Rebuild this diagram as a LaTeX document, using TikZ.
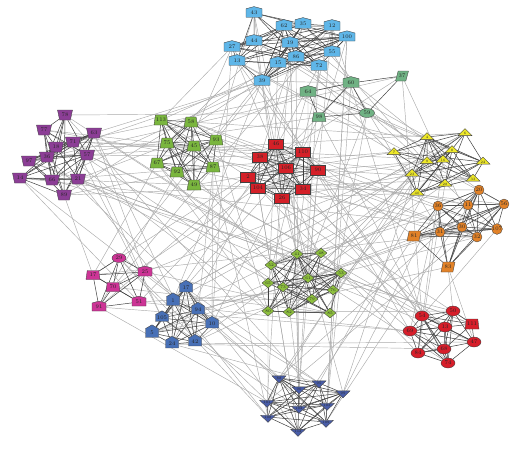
\documentclass[tikz,border=0pt]{standalone}
\usetikzlibrary{shapes.geometric,shapes.symbols}
\pgfdeclarelayer{bg}
\pgfsetlayers{bg,main}
\definecolor{cA}{RGB}{95,182,232}
\definecolor{cB}{RGB}{140,62,150}
\definecolor{cC}{RGB}{122,182,62}
\definecolor{cD}{RGB}{212,32,40}
\definecolor{cE}{RGB}{112,178,132}
\definecolor{cF}{RGB}{238,232,40}
\definecolor{cG}{RGB}{226,130,40}
\definecolor{cH}{RGB}{142,192,62}
\definecolor{cI}{RGB}{205,52,150}
\definecolor{cJ}{RGB}{72,112,182}
\definecolor{cK}{RGB}{215,30,42}
\definecolor{cL}{RGB}{72,92,168}
\tikzset{
 base/.style={draw=black!75, line width=0.35pt, inner sep=0.3pt, font=\fontsize{5.5}{5.5}\selectfont, text=black!85},
 house/.style={base, signal, signal to=north, signal pointer angle=150, minimum width=16pt, minimum height=9.5pt},
 sA/.style={house, fill=cA},
 sB/.style={base, fill=cB, trapezium, trapezium left angle=72, trapezium right angle=72, shape border rotate=180, minimum width=15pt, minimum height=10pt, trapezium stretches=true},
 sC/.style={base, fill=cC, trapezium, trapezium left angle=72, trapezium right angle=72, minimum width=14pt, minimum height=10pt, trapezium stretches=true},
 sD/.style={base, fill=cD, rectangle, minimum width=15pt, minimum height=10pt},
 sE/.style={house, fill=cE},
 sEp/.style={base, fill=cE, trapezium, trapezium left angle=60, trapezium right angle=120, minimum width=13pt, minimum height=10pt, trapezium stretches=true},
 sEt/.style={base, fill=cE, trapezium, trapezium left angle=72, trapezium right angle=72, minimum width=14pt, minimum height=9pt, trapezium stretches=true},
 sEe/.style={base, fill=cE, ellipse, minimum width=15pt, minimum height=9pt},
 tri/.style={base, isosceles triangle, isosceles triangle apex angle=115, isosceles triangle stretches, minimum width=14pt, minimum height=7pt, inner sep=0pt, font=\fontsize{3.5}{3.5}\selectfont},
 sF/.style={tri, fill=cF, shape border rotate=90},
 sG/.style={base, fill=cG, circle, minimum size=10pt, inner sep=0pt},
 sGp/.style={base, fill=cG, trapezium, trapezium left angle=70, trapezium right angle=110, minimum width=14pt, minimum height=10pt, trapezium stretches=true},
 sH/.style={base, fill=cH, diamond, minimum width=12pt, minimum height=10pt, inner sep=0pt, font=\fontsize{4}{4}\selectfont},
 sI/.style={base, fill=cI, trapezium, trapezium left angle=80, trapezium right angle=80, minimum width=14pt, minimum height=9pt, trapezium stretches=true},
 sIe/.style={base, fill=cI, ellipse, minimum width=14pt, minimum height=9pt},
 sIh/.style={base, fill=cI, signal, signal to=north, signal pointer angle=150, minimum width=14pt, minimum height=9pt},
 sJ/.style={base, fill=cJ, signal, signal to=north, signal pointer angle=120, minimum width=13pt, minimum height=10pt},
 sK/.style={base, fill=cK, ellipse, minimum width=14pt, minimum height=10pt, inner sep=0pt},
 sKt/.style={base, fill=cK, trapezium, trapezium left angle=75, trapezium right angle=75, minimum width=14pt, minimum height=10pt, trapezium stretches=true},
 sL/.style={tri, fill=cL, shape border rotate=270},
 inE/.style={draw=black!75, line width=0.5pt},
 outE/.style={draw=black!33, line width=0.45pt},
}
\def\clusarr{{0,1,1,1,1,1,1,1,1,1,1,1,1,1,1,2,2,2,2,2,2,2,2,2,2,2,2,3,3,3,3,3,3,3,3,3,4,4,4,4,4,4,4,4,4,5,5,5,5,5,6,6,6,6,6,6,6,6,6,6,6,7,7,7,7,7,7,7,7,7,7,8,8,8,8,8,8,8,8,8,8,8,8,9,9,9,9,9,9,10,10,10,10,10,10,10,10,11,11,11,11,11,11,11,11,11,12,12,12,12,12,12,12,12,12,12}}
\begin{document}
\begin{tikzpicture}[x=1pt,y=-1pt]
\useasboundingbox (0,0) rectangle (522,448);
% light blue
\node[sA] (n1) at (254,13) {43};
\node[sA] (n2) at (284,26) {62};
\node[sA] (n3) at (303,24) {35};
\node[sA] (n4) at (332,26) {12};
\node[sA] (n5) at (347,37) {100};
\node[sA] (n6) at (232,47) {27};
\node[sA] (n7) at (254,41) {44};
\node[sA] (n8) at (290,43) {19};
\node[sA] (n9) at (296,57) {86};
\node[sA] (n10) at (332,52) {55};
\node[sA] (n11) at (237,61) {13};
\node[sA] (n12) at (278,63) {15};
\node[sA] (n13) at (319,66) {72};
\node[sA] (n14) at (262,81) {39};
% purple
\node[sB] (n15) at (65,115) {78};
\node[sB] (n16) at (44,130) {77};
\node[sB] (n17) at (94,133) {63};
\node[sB] (n18) at (56,147) {18};
\node[sB] (n19) at (73,142) {71};
\node[sB] (n20) at (87,155) {57};
\node[sB] (n21) at (29,161) {97};
\node[sB] (n22) at (47,157) {36};
\node[sB] (n23) at (20,178) {14};
\node[sB] (n24) at (52,180) {66};
\node[sB] (n25) at (78,179) {21};
\node[sB] (n26) at (64,195) {89};
% olive
\node[sC] (n27) at (161,120) {113};
\node[sC] (n28) at (191,122) {58};
\node[sC] (n29) at (216,140) {93};
\node[sC] (n30) at (167,143) {75};
\node[sC] (n31) at (194,146) {45};
\node[sC] (n32) at (157,163) {67};
\node[sC] (n33) at (213,167) {87};
\node[sC] (n34) at (177,172) {92};
\node[sC] (n35) at (194,185) {49};
% red squares
\node[sD] (n36) at (276,144) {46};
\node[sD] (n37) at (303,152) {110};
\node[sD] (n38) at (260,157) {38};
\node[sD] (n39) at (286,168) {106};
\node[sD] (n40) at (318,170) {90};
\node[sD] (n41) at (248,177) {2};
\node[sD] (n42) at (258,188) {104};
\node[sD] (n43) at (303,189) {34};
\node[sD] (n44) at (282,198) {26};
% teal
\node[sEp] (n45) at (402,76) {37};
\node[sE] (n46) at (351,83) {60};
\node[sE] (n47) at (308,92) {64};
\node[sEt] (n48) at (319,117) {98};
\node[sEe] (n49) at (367,113) {59};
% yellow
\node[sF] (n50) at (427,137) {4};
\node[sF] (n51) at (465,133) {6};
\node[sF] (n52) at (394,152) {7};
\node[sF] (n53) at (452,150) {8};
\node[sF] (n54) at (427,161) {9};
\node[sF] (n55) at (443,160) {16};
\node[sF] (n56) at (483,162) {22};
\node[sF] (n57) at (412,174) {23};
\node[sF] (n58) at (445,184) {28};
\node[sF] (n59) at (473,179) {33};
\node[sF] (n60) at (417,193) {40};
% orange
\node[sG] (n61) at (479,190) {20};
\node[sG] (n62) at (438,206) {36};
\node[sG] (n63) at (468,205) {11};
\node[sG] (n64) at (504,204) {56};
\node[sG] (n65) at (462,227) {30};
\node[sG] (n66) at (497,229) {107};
\node[sG] (n67) at (440,232) {31};
\node[sG] (n68) at (477,237) {32};
\node[sGp] (n69) at (414,236) {81};
\node[sGp] (n70) at (448,267) {83};
% light green
\node[sH] (n71) at (297,254) {41};
\node[sH] (n72) at (321,253) {48};
\node[sH] (n73) at (271,265) {52};
\node[sH] (n74) at (341,273) {53};
\node[sH] (n75) at (308,278) {61};
\node[sH] (n76) at (268,283) {65};
\node[sH] (n77) at (283,287) {73};
\node[sH] (n78) at (333,290) {76};
\node[sH] (n79) at (312,299) {79};
\node[sH] (n80) at (268,311) {80};
\node[sH] (n81) at (289,312) {82};
\node[sH] (n82) at (330,313) {85};
% magenta
\node[sIe] (n83) at (119,258) {29};
\node[sI] (n84) at (93,275) {17};
\node[sIh] (n85) at (145,272) {25};
\node[sI] (n86) at (113,287) {70};
\node[sIh] (n87) at (99,307) {91};
\node[sIh] (n88) at (139,302) {51};
% blue
\node[sJ] (n89) at (186,288) {17};
\node[sJ] (n90) at (173,301) {1};
\node[sJ] (n91) at (198,310) {94};
\node[sJ] (n92) at (162,318) {105};
\node[sJ] (n93) at (212,324) {10};
\node[sJ] (n94) at (152,333) {5};
\node[sJ] (n95) at (172,344) {24};
\node[sJ] (n96) at (195,342) {42};
% red circles
\node[sK] (n97) at (422,316) {54};
\node[sK] (n98) at (453,311) {50};
\node[sKt] (n99) at (472,324) {111};
\node[sK] (n100) at (410,331) {69};
\node[sK] (n101) at (445,327) {13};
\node[sK] (n102) at (474,342) {47};
\node[sK] (n103) at (418,353) {84};
\node[sK] (n104) at (444,349) {68};
\node[sK] (n105) at (448,363) {74};
% navy
\node[sL] (n106) at (279,378) {88};
\node[sL] (n107) at (319,383) {95};
\node[sL] (n108) at (299,389) {96};
\node[sL] (n109) at (343,393) {99};
\node[sL] (n110) at (267,402) {101};
\node[sL] (n111) at (299,408) {102};
\node[sL] (n112) at (327,405) {103};
\node[sL] (n113) at (268,417) {108};
\node[sL] (n114) at (326,422) {109};
\node[sL] (n115) at (298,431) {112};
\begin{pgfonlayer}{bg}
\foreach \i in {1,...,115}{
  \foreach \k in {1,2}{
    \pgfmathtruncatemacro\j{mod(\i*(13+\k*24)+\k*41,115)+1}
    \pgfmathtruncatemacro\ci{\clusarr[\i]}
    \pgfmathtruncatemacro\cj{\clusarr[\j]}
    \ifnum\ci=\cj\else \draw[outE] (n\i) -- (n\j);\fi
  }
}
\foreach \s/\e/\t in {1/14/2,15/26/2,27/35/0,36/44/0,50/60/2,61/70/1,71/82/2,83/88/0,89/96/0,97/105/1,106/115/1}{
  \foreach \a in {\s,...,\e}{
    \foreach \b in {\s,...,\e}{
      \ifnum\a<\b
        \pgfmathtruncatemacro\m{mod(\a*7+\b*3,6)}
        \ifnum\m<\t\else \draw[inE] (n\a) -- (n\b);\fi
      \fi}}}
\draw[inE] (n47) -- (n46);
\draw[inE] (n47) -- (n49);
\draw[inE] (n47) -- (n48);
\draw[inE] (n46) -- (n48);
\draw[inE] (n46) -- (n49);
\draw[inE] (n46) -- (n45);
\draw[inE] (n49) -- (n45);
\draw[inE] (n48) -- (n49);
\end{pgfonlayer}
\end{tikzpicture}
\end{document}
